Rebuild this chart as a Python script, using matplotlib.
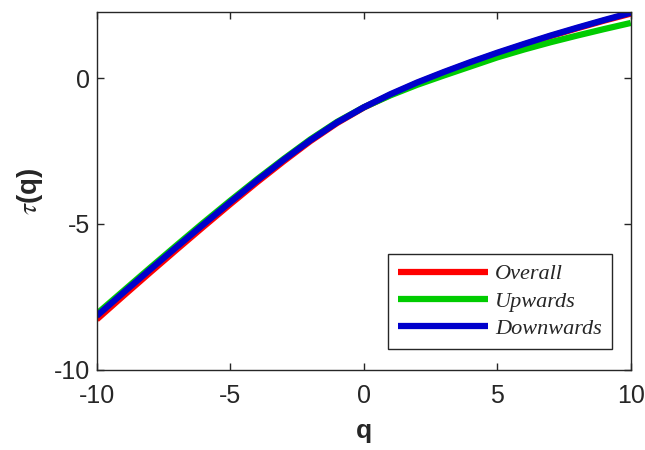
import matplotlib
matplotlib.use("Agg")
import matplotlib.pyplot as plt

plt.rcParams['font.family'] = ['Liberation Sans', 'DejaVu Sans']
plt.rcParams['mathtext.fontset'] = 'stix'
plt.rcParams['axes.unicode_minus'] = False

# Multifractal mass exponent tau(q) for the three series
q = [-10, -9, -8, -7, -6, -5, -4, -3, -2, -1, 0, 1, 2, 3, 4, 5, 6, 7, 8, 9, 10]
tau_overall = [-8.27, -7.46, -6.66, -5.87, -5.09, -4.32, -3.57, -2.85, -2.16, -1.54, -1.01,
               -0.57, -0.17, 0.19, 0.53, 0.85, 1.15, 1.44, 1.71, 1.97, 2.21]
tau_upwards = [-8.08, -7.29, -6.50, -5.72, -4.95, -4.20, -3.47, -2.77, -2.10, -1.50, -1.00,
               -0.59, -0.23, 0.09, 0.40, 0.71, 0.98, 1.23, 1.46, 1.68, 1.89]
tau_downwards = [-8.15, -7.35, -6.56, -5.78, -5.01, -4.25, -3.51, -2.80, -2.13, -1.52, -1.00,
                 -0.55, -0.15, 0.21, 0.55, 0.87, 1.17, 1.46, 1.73, 1.99, 2.24]

series = [("Overall", tau_overall, (1.0, 0.0, 0.0)),
          ("Upwards", tau_upwards, (0.0, 0.8, 0.0)),
          ("Downwards", tau_downwards, (0.0, 0.0, 0.8))]

fig = plt.figure(figsize=(6.45, 4.5), dpi=100)
ax = fig.add_axes([0.150, 0.178, 0.828, 0.795])

for name, vals, col in series:
    ax.plot(q, vals, color=col, linewidth=4.5, label=name,
            solid_joinstyle='round', solid_capstyle='butt')

ax.set_xlim(-10, 10)
ax.set_ylim(-10, 2.26)
ax.set_xticks([-10, -5, 0, 5, 10])
ax.set_yticks([-10, -5, 0])

spine_col = (0.15, 0.15, 0.15)
for s in ax.spines.values():
    s.set_color(spine_col)
    s.set_linewidth(1.0)
ax.tick_params(direction='in', length=5, width=1.0, colors=spine_col,
               top=True, right=True, labelsize=18)
ax.tick_params(axis='x', pad=10)
ax.tick_params(axis='y', pad=5)
for lab in ax.get_xticklabels() + ax.get_yticklabels():
    lab.set_color(spine_col)

ax.set_xlabel('q', fontsize=19, fontweight='bold', color=spine_col, labelpad=8)
ax.set_ylabel(r'$\tau$(q)', fontsize=20, fontweight='bold', color=spine_col, labelpad=6)

leg = ax.legend(loc='lower right', bbox_to_anchor=(0.9644, 0.0587), borderaxespad=0,
                prop={'family': 'Liberation Serif', 'style': 'italic', 'size': 16},
                handlelength=4.05, handletextpad=0.3, labelspacing=0.3,
                borderpad=0.45, fancybox=False, framealpha=1.0)
leg.get_frame().set_edgecolor(spine_col)
leg.get_frame().set_linewidth(1.0)
for t in leg.get_texts():
    t.set_color(spine_col)

fig.savefig('out.png', dpi=100)
